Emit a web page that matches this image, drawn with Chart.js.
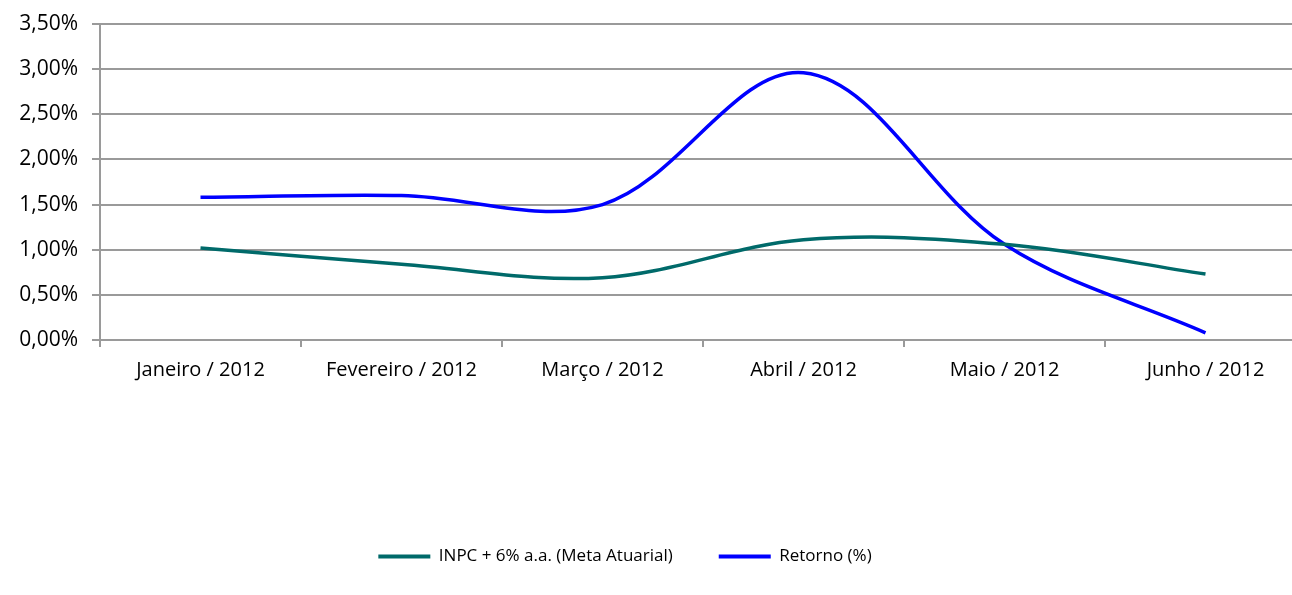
<!DOCTYPE html>
<html>
<head>
<meta charset="utf-8">
<script src="https://cdn.jsdelivr.net/npm/chart.js@4.4.1/dist/chart.umd.min.js"></script>
<style>
  html, body { margin: 0; padding: 0; background: #fff; overflow: hidden; }
</style>
</head>
<body>
<canvas id="chart" width="1320" height="595"></canvas>
<script>
'use strict';

// data
const months = ['Janeiro / 2012', 'Fevereiro / 2012', 'Março / 2012', 'Abril / 2012', 'Maio / 2012', 'Junho / 2012'];
const metaAtuarial = [1.02, 0.84, 0.69, 1.11, 1.06, 0.73];
const retorno = [1.58, 1.60, 1.50, 2.96, 1.06, 0.08];
const yTicks = [0, 0.5, 1, 1.5, 2, 2.5, 3, 3.5];

const gridColor = '#9a9a9a';
const fontFamily = '"Open Sans", sans-serif';

// shift the legend a bit left, like the original
const legendShift = {
    id: 'legendShift',
    afterLayout(chart) {
        const lg = chart.legend;
        if (lg) {
            lg.left -= 28;
            lg.right -= 28;
        }
    }
};

const ctx = document.querySelector('#chart');

new Chart(ctx, {
    type: 'line',
    data: {
        labels: months,
        datasets: [
            {
                label: 'INPC + 6% a.a. (Meta Atuarial)',
                data: metaAtuarial,
                borderColor: '#006a6a',
                backgroundColor: '#006a6a',
                borderWidth: 3.5,
                pointRadius: 0,
                tension: 0.35
            },
            {
                label: 'Retorno (%)',
                data: retorno,
                borderColor: '#0000ff',
                backgroundColor: '#0000ff',
                borderWidth: 3.5,
                pointRadius: 0,
                tension: 0.35
            }
        ]
    },
    options: {
        responsive: false,
        animation: false,
        layout: {
            padding: { top: 24, left: 0, right: 14, bottom: 20 }
        },
        scales: {
            x: {
                offset: true,
                grid: {
                    offset: true,
                    drawOnChartArea: false,
                    drawTicks: true,
                    tickLength: 7,
                    color: gridColor,
                    lineWidth: 2
                },
                border: { color: gridColor, width: 2 },
                ticks: {
                    color: '#000',
                    padding: 11,
                    maxRotation: 0,
                    font: { family: fontFamily, size: 20 }
                },
                afterFit: scale => { scale.height = 162; }
            },
            y: {
                min: 0,
                max: 3.5,
                afterBuildTicks: scale => {
                    scale.ticks = yTicks.map(v => ({ value: v }));
                },
                grid: {
                    color: gridColor,
                    lineWidth: 2,
                    tickLength: 8
                },
                border: { color: gridColor, width: 2 },
                ticks: {
                    color: '#000',
                    padding: 14,
                    font: { family: fontFamily, size: 21 },
                    callback: value => `${value.toFixed(2).replace('.', ',')}%`
                },
                afterFit: scale => {
                    scale.width = 100;
                    scale.paddingTop = 0;
                    scale.paddingBottom = 0;
                }
            }
        },
        plugins: {
            legend: {
                position: 'bottom',
                labels: {
                    boxWidth: 52,
                    boxHeight: 4,
                    padding: 46,
                    color: '#000',
                    font: { family: fontFamily, size: 17 },
                    generateLabels: chart =>
                        Chart.defaults.plugins.legend.labels.generateLabels(chart)
                            .map(item => ({ ...item, lineWidth: 0 }))
                }
            },
            tooltip: { enabled: false }
        }
    },
    plugins: [legendShift]
});
</script>
</body>
</html>
